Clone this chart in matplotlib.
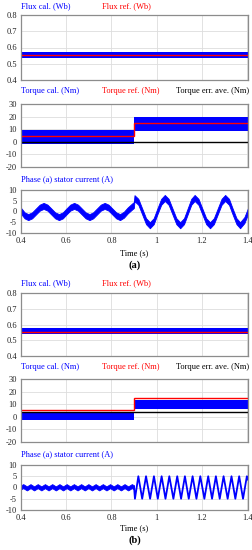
import numpy as np
import matplotlib.pyplot as plt

W, H = 253, 550

# axis settings
t_lim = (0.4, 1.404)
x_ticks = [0.4, 0.6, 0.8, 1.0, 1.2, 1.4]
x_tick_labels = ['0.4', '0.6', '0.8', '1', '1.2', '1.4']
flux_ticks = [0.4, 0.5, 0.6, 0.7, 0.8]
flux_tick_labels = ['0.4', '0.5', '0.6', '0.7', '0.8']
torque_ticks = [-20, -10, 0, 10, 20, 30]
torque_tick_labels = ['-20', '-10', '0', '10', '20', '30']
cur_ticks = [-10, -5, 0, 5, 10]
cur_tick_labels = ['-10', '-5', '0', '5', '10']

# load step at t = 0.9 s
t_step = [0.4, 0.9, 1.404]

# ---- case (a)
flux_a_low, flux_a_high = 0.535, 0.575
flux_a_ref = 0.555
torque_a_ref = [5, 15]
torque_a_err = [0, 0]
torque_a_low = [-1.5, 8.5]
torque_a_high = [9.5, 19.5]

cur_a_t = [0.400, 0.416, 0.432, 0.449, 0.466, 0.483, 0.500, 0.517, 0.534, 0.551,
           0.568, 0.585, 0.601, 0.618, 0.635, 0.652, 0.669, 0.686, 0.703, 0.719,
           0.736, 0.753, 0.770, 0.787, 0.804, 0.821, 0.838, 0.855, 0.872, 0.890,
           0.899, 0.902, 0.919, 0.936, 0.953, 0.970, 0.987, 1.003, 1.020, 1.036,
           1.053, 1.070, 1.087, 1.104, 1.121, 1.137, 1.153, 1.168, 1.185, 1.202,
           1.219, 1.236, 1.253, 1.270, 1.287, 1.303, 1.320, 1.336, 1.353, 1.369,
           1.388, 1.404]
cur_a = [0.3, -1.8, -2.6, -1.8, 0.0, 1.8, 2.6, 1.8, 0.0, -1.8,
         -2.6, -1.8, 0.0, 1.8, 2.6, 1.8, 0.0, -1.8, -2.6, -1.8,
         0.0, 1.8, 2.6, 1.8, 0.0, -1.8, -2.6, -1.5, 0.5, 2.2,
         3.0, 6.2, 4.5, 0.0, -4.5, -6.4, -4.5, 0.0, 4.5, 6.3,
         4.5, 0.0, -4.5, -6.4, -4.5, 0.0, 4.5, 6.3, 4.5, 0.0,
         -4.5, -6.4, -4.5, 0.0, 4.5, 6.3, 4.5, 0.0, -4.5, -6.4,
         -4.0, 0.2]
cur_a_hw = 1.4

# ---- case (b)
flux_b_low, flux_b_high = 0.54, 0.575
flux_b_ref = 0.555
torque_b_ref = [5, 15]
torque_b_err = [4, 4]
torque_b_low = [-2.5, 6.0]
torque_b_high = [3.5, 13.0]

cur_b1_t = [0.400, 0.410, 0.426, 0.442, 0.458, 0.474, 0.490, 0.506, 0.522, 0.538,
            0.554, 0.570, 0.586, 0.602, 0.618, 0.634, 0.650, 0.666, 0.682, 0.698,
            0.714, 0.730, 0.746, 0.762, 0.778, 0.794, 0.810, 0.826, 0.842, 0.858,
            0.874, 0.890, 0.900]
cur_b1 = [0.1, 0.6, -0.4, 0.6, -0.4, 0.6, -0.4, 0.6, -0.4, 0.6,
          -0.4, 0.6, -0.4, 0.6, -0.4, 0.6, -0.4, 0.6, -0.4, 0.6,
          -0.4, 0.6, -0.4, 0.6, -0.4, 0.6, -0.4, 0.6, -0.4, 0.6,
          -0.4, 0.6, 0.1]
cur_b1_hw = 0.9

cur_b2_t = [0.900, 0.904, 0.919, 0.936, 0.953, 0.971, 0.988, 1.005, 1.022, 1.039,
            1.056, 1.074, 1.091, 1.108, 1.125, 1.142, 1.159, 1.176, 1.193, 1.211,
            1.228, 1.245, 1.262, 1.279, 1.296, 1.314, 1.331, 1.348, 1.365, 1.382,
            1.399, 1.404]
cur_b2 = [0.2, -5.0, 5.0, -5.0, 5.0, -5.0, 5.0, -5.0, 5.0, -5.0,
          5.0, -5.0, 5.0, -5.0, 5.0, -5.0, 5.0, -5.0, 5.0, -5.0,
          5.0, -5.0, 5.0, -5.0, 5.0, -5.0, 5.0, -5.0, 5.0, -5.0,
          5.0, 3.5]

BLUE = '#0000ff'
RED = '#ff0000'
FS = 6

plt.rcParams['font.family'] = ['Liberation Serif', 'DejaVu Serif']

fig = plt.figure(figsize=(W / 100, H / 100), dpi=100)


def add_ax(top, bottom, yticks, ylabels, ylim, show_x=False):
    ax = fig.add_axes([21 / W, 1 - bottom / H, (248 - 21) / W, (bottom - top) / H])
    ax.set_xlim(*t_lim)
    ax.set_ylim(*ylim)
    ax.set_xticks(x_ticks)
    ax.set_yticks(yticks)
    ax.set_yticklabels(ylabels)
    if show_x:
        ax.set_xticklabels(x_tick_labels)
    else:
        ax.set_xticklabels([])
    ax.tick_params(length=0, labelsize=FS, pad=3, colors='#222222')
    ax.grid(True, color='#dddddd', lw=0.6)
    ax.set_axisbelow(True)
    for s in ax.spines.values():
        s.set_color('#8c8c8c')
        s.set_linewidth(0.9)
    return ax


def label(x, y, s, color, **kw):
    fig.text(x / W, 1 - y / H, s, color=color, fontsize=FS, va='center', ha='left', **kw)


def torque_plot(ax, low, high, ref, err):
    ax.fill_between(t_step, np.append(low, low[-1]), np.append(high, high[-1]),
                    step='post', color=BLUE, lw=0)
    ax.stairs(err, t_step, color='black', lw=1.0, baseline=None)
    ax.stairs(ref, t_step, color=RED, lw=1.0, baseline=None)


# ---------------- (a)
label(21, 6, 'Flux cal. (Wb)', BLUE)
label(102, 6, 'Flux ref. (Wb)', RED)
ax1 = add_ax(15, 80, flux_ticks, flux_tick_labels, (0.4, 0.8))
ax1.fill_between(t_lim, flux_a_low, flux_a_high, color=BLUE, lw=0)
ax1.axhline(flux_a_ref, color=RED, lw=1.0)

label(21, 91, 'Torque cal. (Nm)', BLUE)
label(102, 91, 'Torque ref. (Nm)', RED)
label(176, 91, 'Torque err. ave. (Nm)', 'black')
ax2 = add_ax(104, 167, torque_ticks, torque_tick_labels, (-20, 30))
torque_plot(ax2, torque_a_low, torque_a_high, torque_a_ref, torque_a_err)

label(21, 179, 'Phase (a) stator current (A)', BLUE)
ax3 = add_ax(190, 233, cur_ticks, cur_tick_labels, (-10, 10), show_x=True)
ca = np.array(cur_a)
ax3.fill_between(cur_a_t, ca - cur_a_hw, ca + cur_a_hw, color=BLUE, lw=0.6, edgecolor=BLUE)
fig.text(134.5 / W, 1 - 253 / H, 'Time (s)', fontsize=FS, ha='center', va='center')
fig.text(134.5 / W, 1 - 265 / H, '(a)', fontsize=7.5, ha='center', va='center', weight='bold')

# ---------------- (b)
label(21, 283, 'Flux cal. (Wb)', BLUE)
label(102, 283, 'Flux ref. (Wb)', RED)
ax4 = add_ax(293, 356, flux_ticks, flux_tick_labels, (0.4, 0.8))
ax4.fill_between(t_lim, flux_b_low, flux_b_high, color=BLUE, lw=0)
ax4.axhline(flux_b_ref, color=RED, lw=1.0)

label(21, 367, 'Torque cal. (Nm)', BLUE)
label(102, 367, 'Torque ref. (Nm)', RED)
label(176, 367, 'Torque err. ave. (Nm)', 'black')
ax5 = add_ax(379, 442, torque_ticks, torque_tick_labels, (-20, 30))
torque_plot(ax5, torque_b_low, torque_b_high, torque_b_ref, torque_b_err)

label(21, 454, 'Phase (a) stator current (A)', BLUE)
ax6 = add_ax(465, 510, cur_ticks, cur_tick_labels, (-10, 10), show_x=True)
cb = np.array(cur_b1)
ax6.fill_between(cur_b1_t, cb - cur_b1_hw, cb + cur_b1_hw, color=BLUE, lw=0.6, edgecolor=BLUE)
ax6.plot(cur_b2_t, cur_b2, color=BLUE, lw=1.3)
fig.text(134.5 / W, 1 - 528 / H, 'Time (s)', fontsize=FS, ha='center', va='center')
fig.text(134.5 / W, 1 - 540 / H, '(b)', fontsize=7.5, ha='center', va='center', weight='bold')

fig.savefig('out.png', dpi=100)
